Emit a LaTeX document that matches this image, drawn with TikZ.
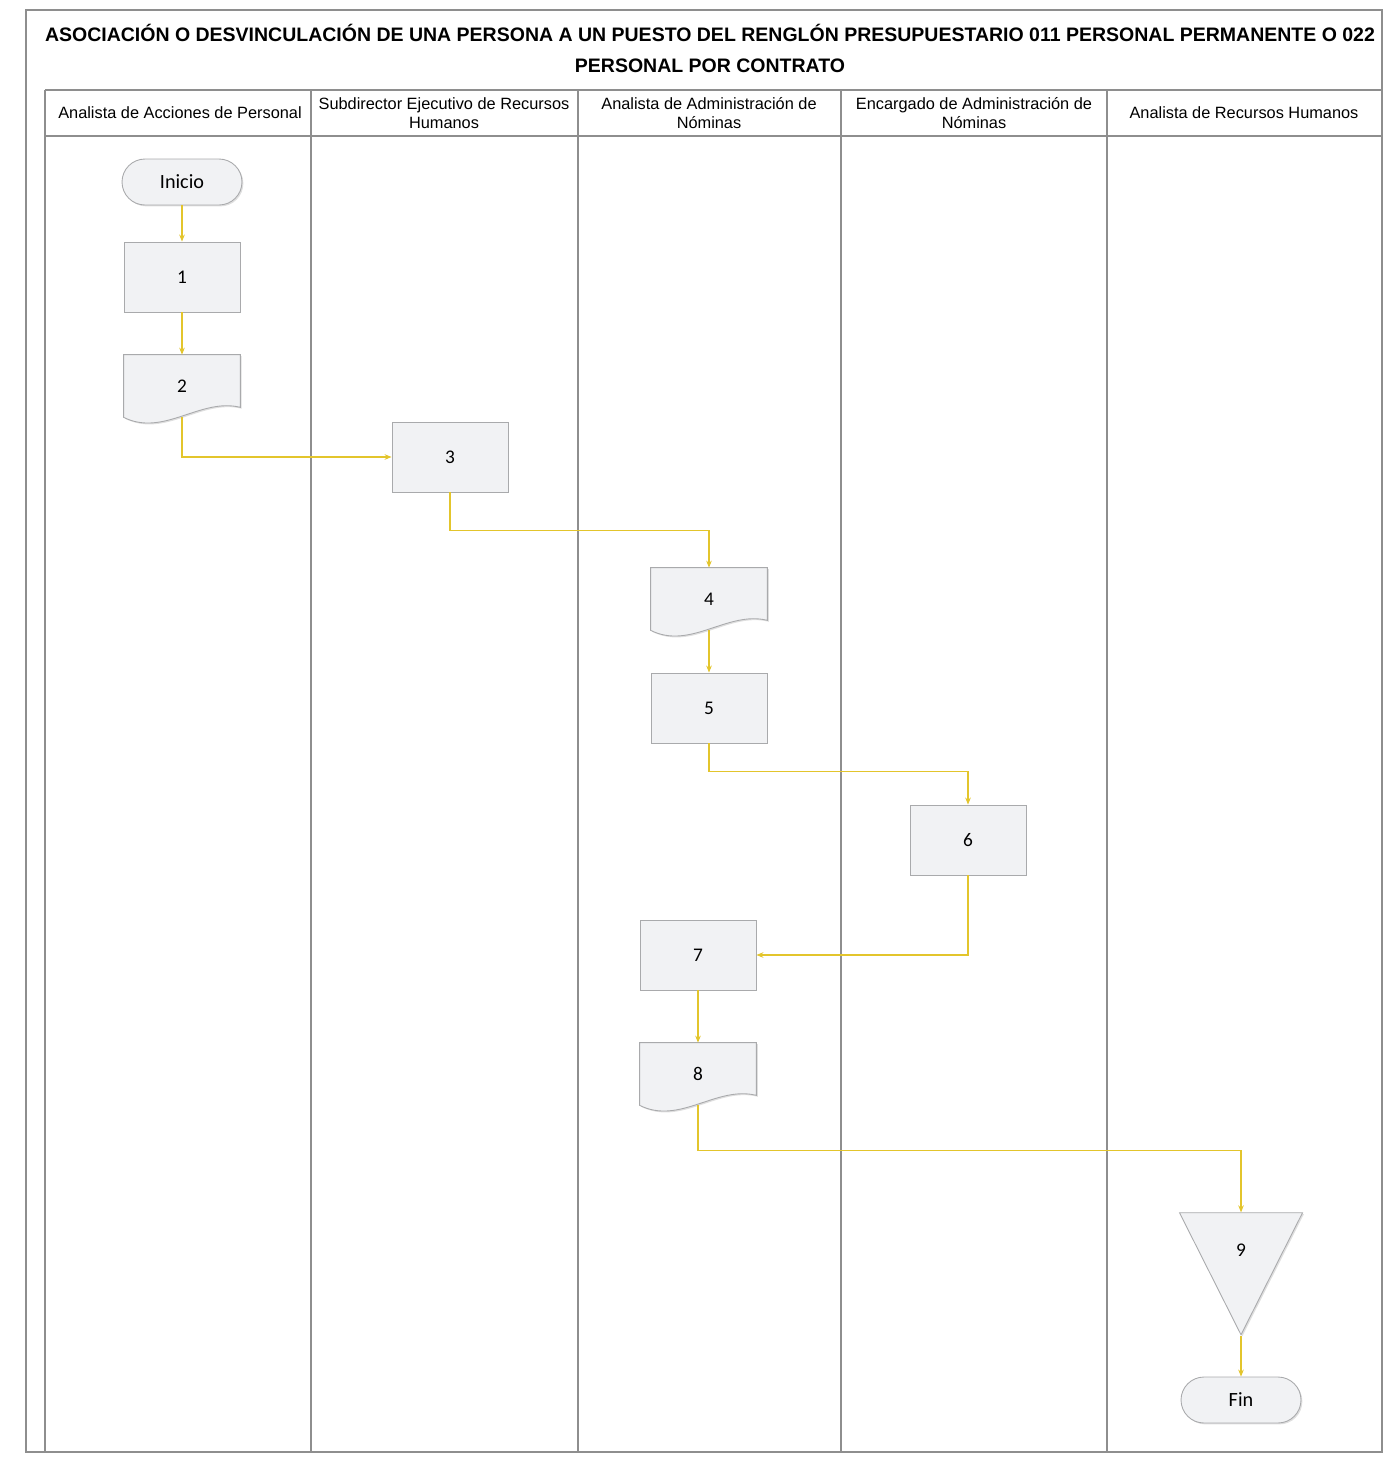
\documentclass[tikz,border=0pt]{standalone}
\usepackage{fontspec}
\setmainfont{Liberation Sans}
\newfontfamily\boxfont{Carlito}
\usetikzlibrary{arrows.meta,shapes.geometric,calc,shadows,backgrounds}

\definecolor{lanegray}{HTML}{8E8E8E}
\definecolor{boxfill}{HTML}{F1F2F4}
\definecolor{boxedge}{HTML}{A9AAAC}
\definecolor{flowyellow}{HTML}{E3C52C}

\newcommand\docpath[1]{%
\begin{pgfonlayer}{background}
\filldraw[boxline] (#1.north west) -- (#1.north east) -- ($(#1.south east)+(0,-10)$) .. controls ($(#1.south east)+(-40,-20)$) and ($(#1.south west)+(40,20)$) .. (#1.south west) -- cycle;
\end{pgfonlayer}}

\begin{document}
\begin{tikzpicture}[x=0.02cm,y=-0.02cm,
  lane/.style={draw=lanegray,line width=0.6pt},
  boxline/.style={draw=boxedge,fill=boxfill,line width=0.5pt,drop shadow={shadow xshift=0.8pt,shadow yshift=-0.8pt,opacity=0.25}},
  head/.style={align=center,font=\fontsize{9.3}{10.5}\selectfont},
  proc/.style={boxline,rectangle,minimum width=2.32cm,minimum height=1.4cm,inner sep=0pt,font=\boxfont\fontsize{11}{13}\selectfont},
  docbox/.style={rectangle,minimum width=2.32cm,minimum height=1.24cm,inner sep=0pt,font=\boxfont\fontsize{11}{13}\selectfont},
  term/.style={boxline,rectangle,rounded corners=0.46cm,minimum width=2.4cm,minimum height=0.92cm,inner sep=0pt,font=\boxfont\fontsize{11.5}{13}\selectfont},
  tri/.style={boxline,isosceles triangle,shape border rotate=270,isosceles triangle stretches,minimum width=2.46cm,minimum height=2.44cm,inner sep=0pt,font=\boxfont\fontsize{11}{13}\selectfont},
  flow/.style={draw=flowyellow,line width=0.6pt,-{Stealth[length=4pt,width=3.2pt]}}]
\useasboundingbox (0,0) rectangle (1396,1464);

\draw[lane] (26,10) rectangle (1382,1452);
\draw[lane] (45,90) -- (45,1452);
\draw[lane] (45,90) -- (1382,90);
\draw[lane] (45,136) -- (1382,136);
\foreach \x in {311,578,841,1107}
  \draw[lane] (\x,90) -- (\x,1452);

\node[font=\bfseries\fontsize{11.1}{14}\selectfont] (title1) at (710,33) {ASOCIACIÓN O DESVINCULACIÓN DE UNA PERSONA A UN PUESTO DEL RENGLÓN PRESUPUESTARIO 011 PERSONAL PERMANENTE O 022};
\node[font=\bfseries\fontsize{11.1}{14}\selectfont] (title2) at (710,66) {PERSONAL POR CONTRATO};

\node[head] (lane1) at (180,113) {Analista de Acciones de Personal};
\node[head] (lane2) at (444,113) {Subdirector Ejecutivo de Recursos\\Humanos};
\node[head] (lane3) at (709,113) {Analista de Administración de\\Nóminas};
\node[head] (lane4) at (974,113) {Encargado de Administración de\\Nóminas};
\node[head] (lane5) at (1244,113) {Analista de Recursos Humanos};

\node[term] (ini) at (182,182) {Inicio};
\node[proc] (b1) at (182,277) {1};
\node[docbox] (d2) at (182,386) {2};
\node[proc] (b3) at (450,457) {3};
\node[docbox] (d4) at (709,599) {4};
\node[proc] (b5) at (709,708) {5};
\node[proc] (b6) at (968,840) {6};
\node[proc] (b7) at (698,955) {7};
\node[docbox] (d8) at (698,1074) {8};
\node[tri] (t9) at (1241,1250) {9};
\node[term] (fin) at (1241,1400) {Fin};
\docpath{d2}
\docpath{d4}
\docpath{d8}

\draw[flow] (ini) -- (b1);
\draw[flow] (b1) -- (d2);
\draw[flow] (d2.south) |- (b3);
\draw[flow] (b3.south) -- ++(0,38) -| (d4);
\draw[flow] (d4.south) -- (b5);
\draw[flow] (b5.south) -- ++(0,28) -| (b6);
\draw[flow] (b6.south) |- (b7);
\draw[flow] (b7) -- (d8);
\draw[flow] (d8.south) -- ++(0,45) -| (t9);
\draw[flow] (t9.apex) -- (fin);
\end{tikzpicture}
\end{document}
